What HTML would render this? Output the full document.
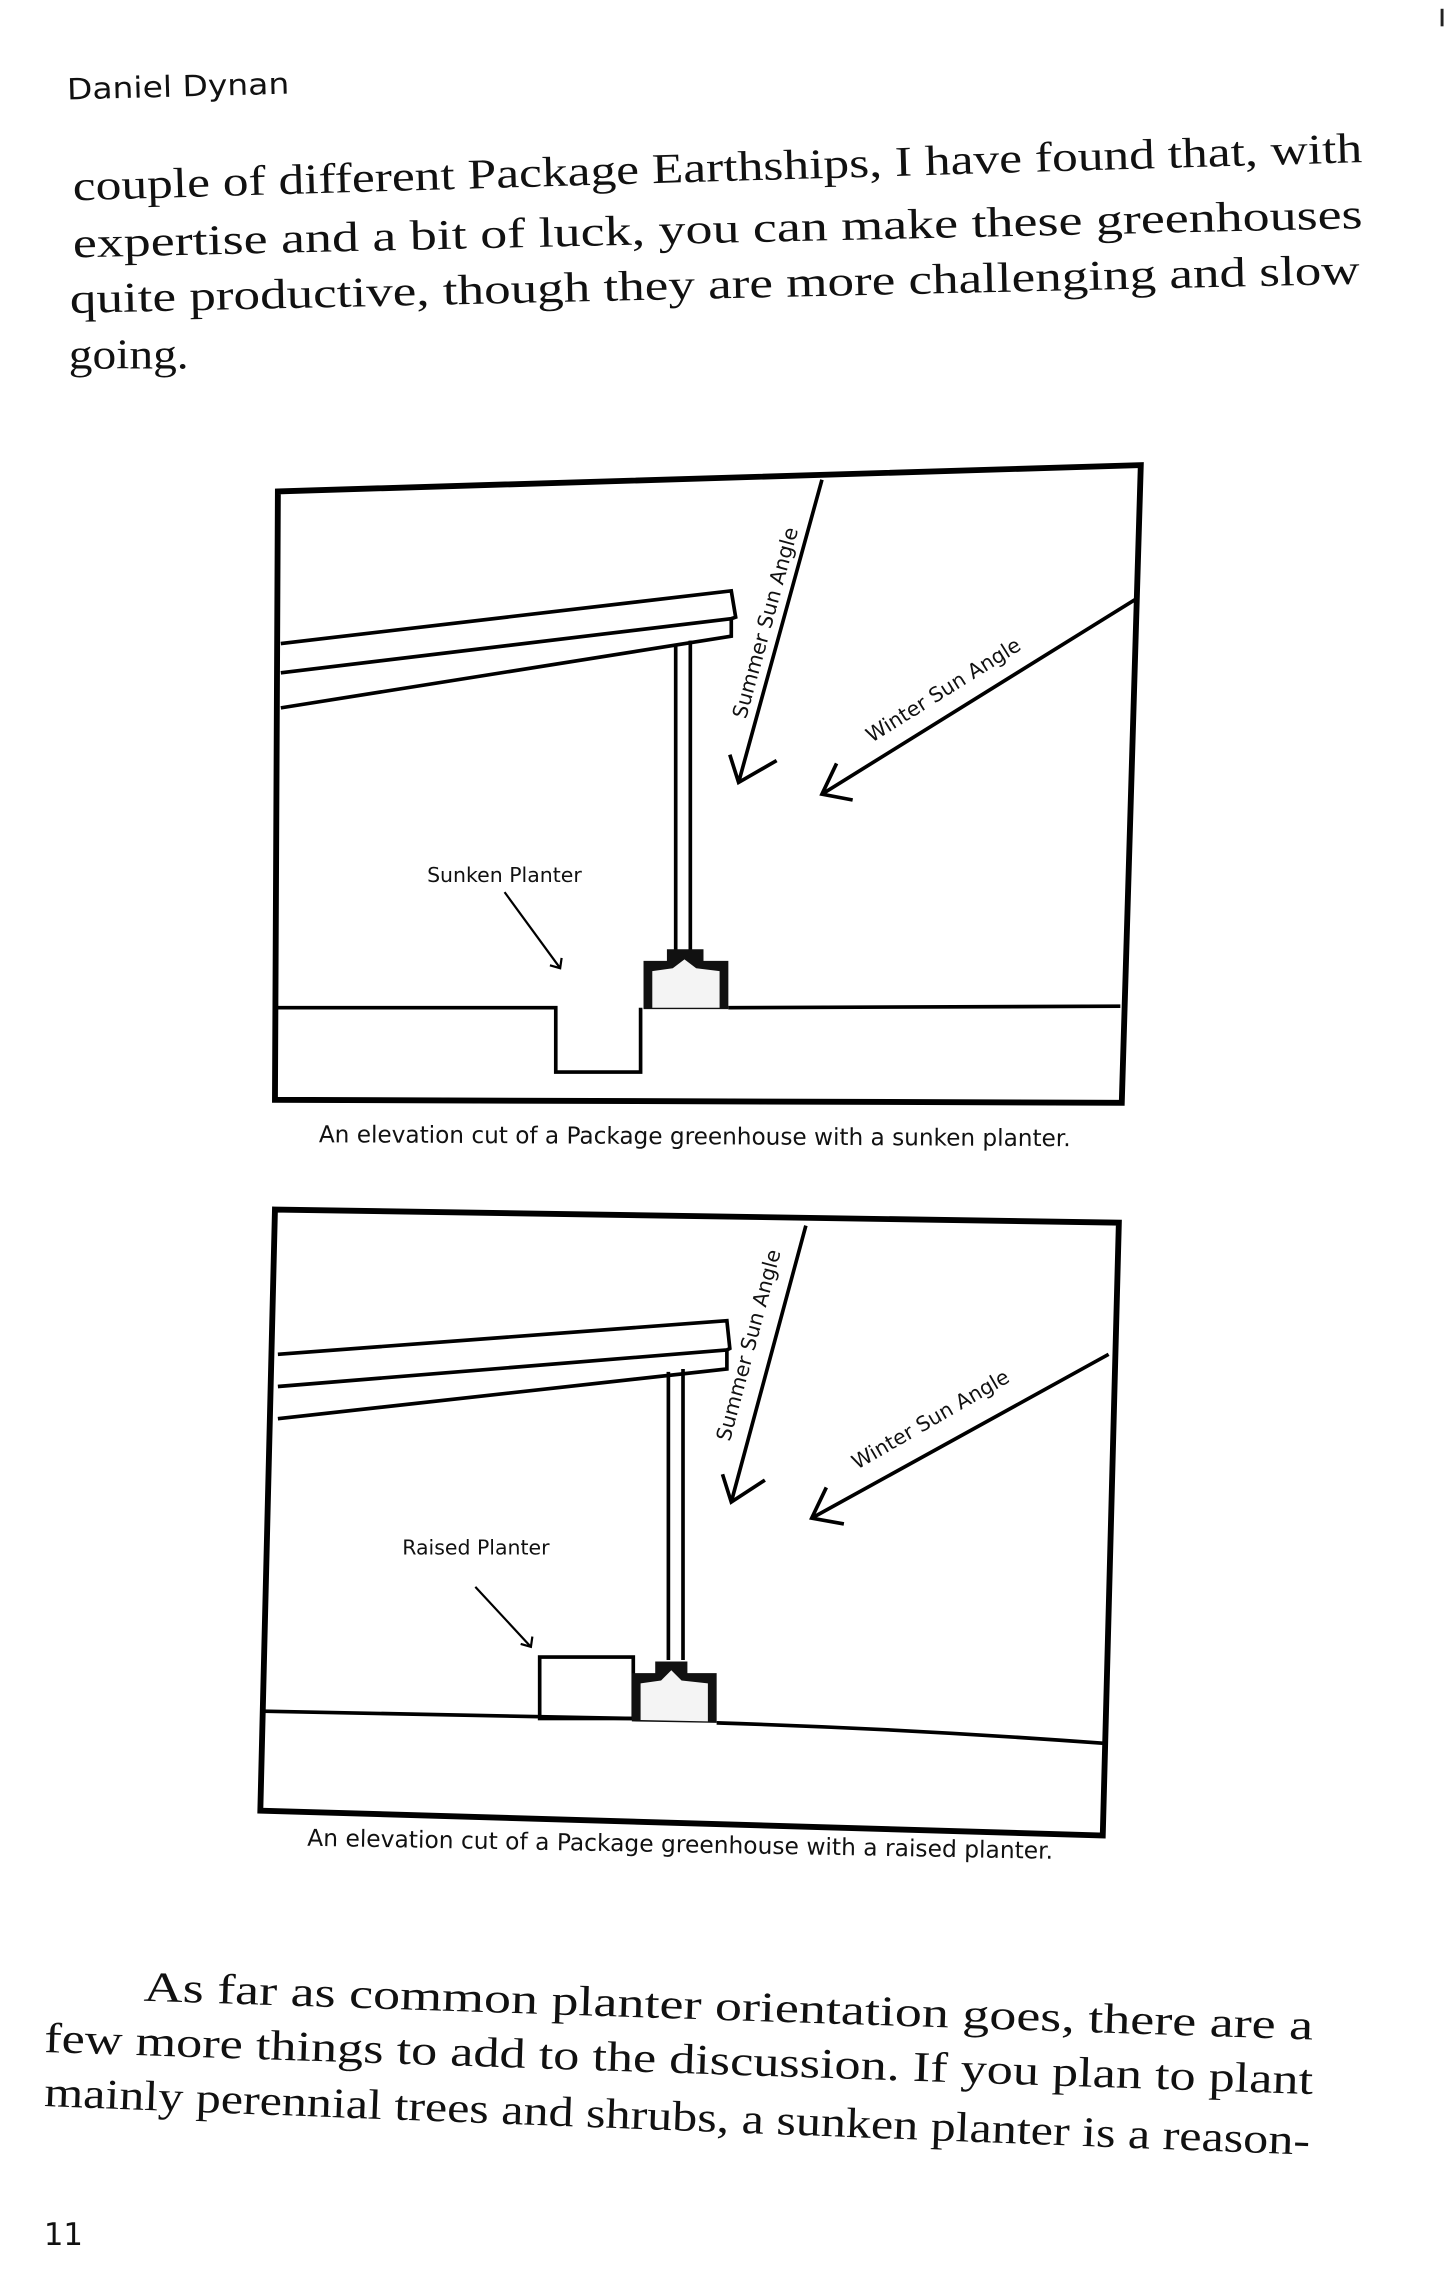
<!DOCTYPE html>
<html><head><meta charset="utf-8"><style>
html,body{margin:0;padding:0;background:#fff;}
svg{display:block}
.b{font-family:"Liberation Serif",serif;font-size:29px;fill:#111}
.s{font-family:"DejaVu Sans","Liberation Sans",sans-serif;fill:#111}
</style></head><body>
<svg width="1445" height="2294" viewBox="0 0 988 1568.5" preserveAspectRatio="none" xmlns="http://www.w3.org/2000/svg">
<rect x="985" y="6" width="2" height="12" fill="#222"/>
<text class="s" x="46" y="68" font-size="20" transform="rotate(-1.5 46 68)" textLength="152" lengthAdjust="spacingAndGlyphs">Daniel Dynan</text>
<g class="b">
<text x="50" y="137" transform="rotate(-1.7 50 137)" textLength="882" lengthAdjust="spacingAndGlyphs">couple of different Package Earthships, I have found that, with</text>
<text x="50" y="176" transform="rotate(-1.3 50 176)" textLength="882" lengthAdjust="spacingAndGlyphs">expertise and a bit of luck, you can make these greenhouses</text>
<text x="48" y="214" transform="rotate(-1.3 48 214)" textLength="882" lengthAdjust="spacingAndGlyphs">quite productive, though they are more challenging and slow</text>
<text x="47" y="252" textLength="82" lengthAdjust="spacingAndGlyphs">going.</text>
</g>
<g fill="none" stroke="#000" stroke-linejoin="miter">
<polygon points="190,336 780,318 767,754 188,752" stroke-width="4"/>
<g stroke-width="2.5">
<polyline points="192,440 500,404 503,422 500,423 192,460"/>
<polyline points="500,423 500,435 192,484"/>
<line x1="462" y1="440" x2="462" y2="650"/>
<line x1="472" y1="438" x2="472" y2="650"/>
<polyline points="190,689 380,689 380,733 438,733 438,689"/>
<line x1="498" y1="689" x2="766" y2="688"/>
<line x1="562" y1="328" x2="505" y2="535"/>
<polyline points="499,516 505,535 531,520"/>
<line x1="776" y1="410" x2="562" y2="543"/>
<polyline points="572,522 562,543 583,547"/>
<line x1="345" y1="610" x2="383" y2="662" stroke-width="1.5"/>
<polyline points="376,660 383,662 384,655" stroke-width="1.5"/>
</g>
<path d="M440,690 L440,657 L456,657 L456,649 L481,649 L481,657 L498,657 L498,690 Z" fill="#111" stroke="none"/>
<path d="M446,689 L446,664 L460,662 L468,656 L476,662 L492,664 L492,689 Z" fill="#f4f4f4" stroke="none"/>
<polygon points="188,827 765,836 754,1255 178,1238" stroke-width="4"/>
<g stroke-width="2.5">
<polyline points="190,926 497,903 499,922 497,923 190,948"/>
<polyline points="497,923 497,936 190,970"/>
<line x1="457" y1="938" x2="457" y2="1135"/>
<line x1="467" y1="936" x2="467" y2="1135"/>
<polyline points="180,1170 432,1175"/>
<rect x="369" y="1133" width="64" height="42"/>
<path d="M490,1178 Q620,1182 755,1192"/>
<line x1="551" y1="838" x2="500" y2="1027"/>
<polyline points="494,1008 500,1027 523,1012"/>
<line x1="758" y1="926" x2="555" y2="1038"/>
<polyline points="565,1017 555,1038 577,1042"/>
<line x1="325" y1="1085" x2="363" y2="1126" stroke-width="1.5"/>
<polyline points="356,1124 363,1126 364,1119" stroke-width="1.5"/>
</g>
<path d="M432,1177 L432,1144 L448,1144 L448,1136 L470,1136 L470,1144 L490,1144 L490,1178 Z" fill="#111" stroke="none"/>
<path d="M438,1176 L438,1151 L452,1149 L459,1142 L466,1149 L484,1151 L484,1177 Z" fill="#f4f4f4" stroke="none"/>
</g>
<g class="s">
<text x="510" y="492" font-size="14" transform="rotate(-74.6 510 492)">Summer Sun Angle</text>
<text x="596" y="508" font-size="14" transform="rotate(-32 596 508)">Winter Sun Angle</text>
<text x="292" y="603" font-size="14">Sunken Planter</text>
<text x="218" y="781" font-size="16" transform="rotate(0.3 218 781)" textLength="514" lengthAdjust="spacingAndGlyphs">An elevation cut of a Package greenhouse with a sunken planter.</text>
<text x="499" y="986" font-size="14" transform="rotate(-75 499 986)">Summer Sun Angle</text>
<text x="586" y="1005" font-size="14" transform="rotate(-30 586 1005)">Winter Sun Angle</text>
<text x="275" y="1063" font-size="14">Raised Planter</text>
<text x="210" y="1262" font-size="16" transform="rotate(1 210 1262)" textLength="510" lengthAdjust="spacingAndGlyphs">An elevation cut of a Package greenhouse with a raised planter.</text>
</g>
<g class="b">
<text x="98" y="1368" transform="rotate(1.9 98 1368)" textLength="800" lengthAdjust="spacingAndGlyphs">As far as common planter orientation goes, there are a</text>
<text x="30" y="1403" transform="rotate(1.9 30 1403)" textLength="868" lengthAdjust="spacingAndGlyphs">few more things to add to the discussion. If you plan to plant</text>
<text x="30" y="1440" transform="rotate(2.2 30 1440)" textLength="866" lengthAdjust="spacingAndGlyphs">mainly perennial trees and shrubs, a sunken planter is a reason-</text>
</g>
<text class="s" x="30" y="1535" font-size="21">11</text>
</svg>
</body></html>
